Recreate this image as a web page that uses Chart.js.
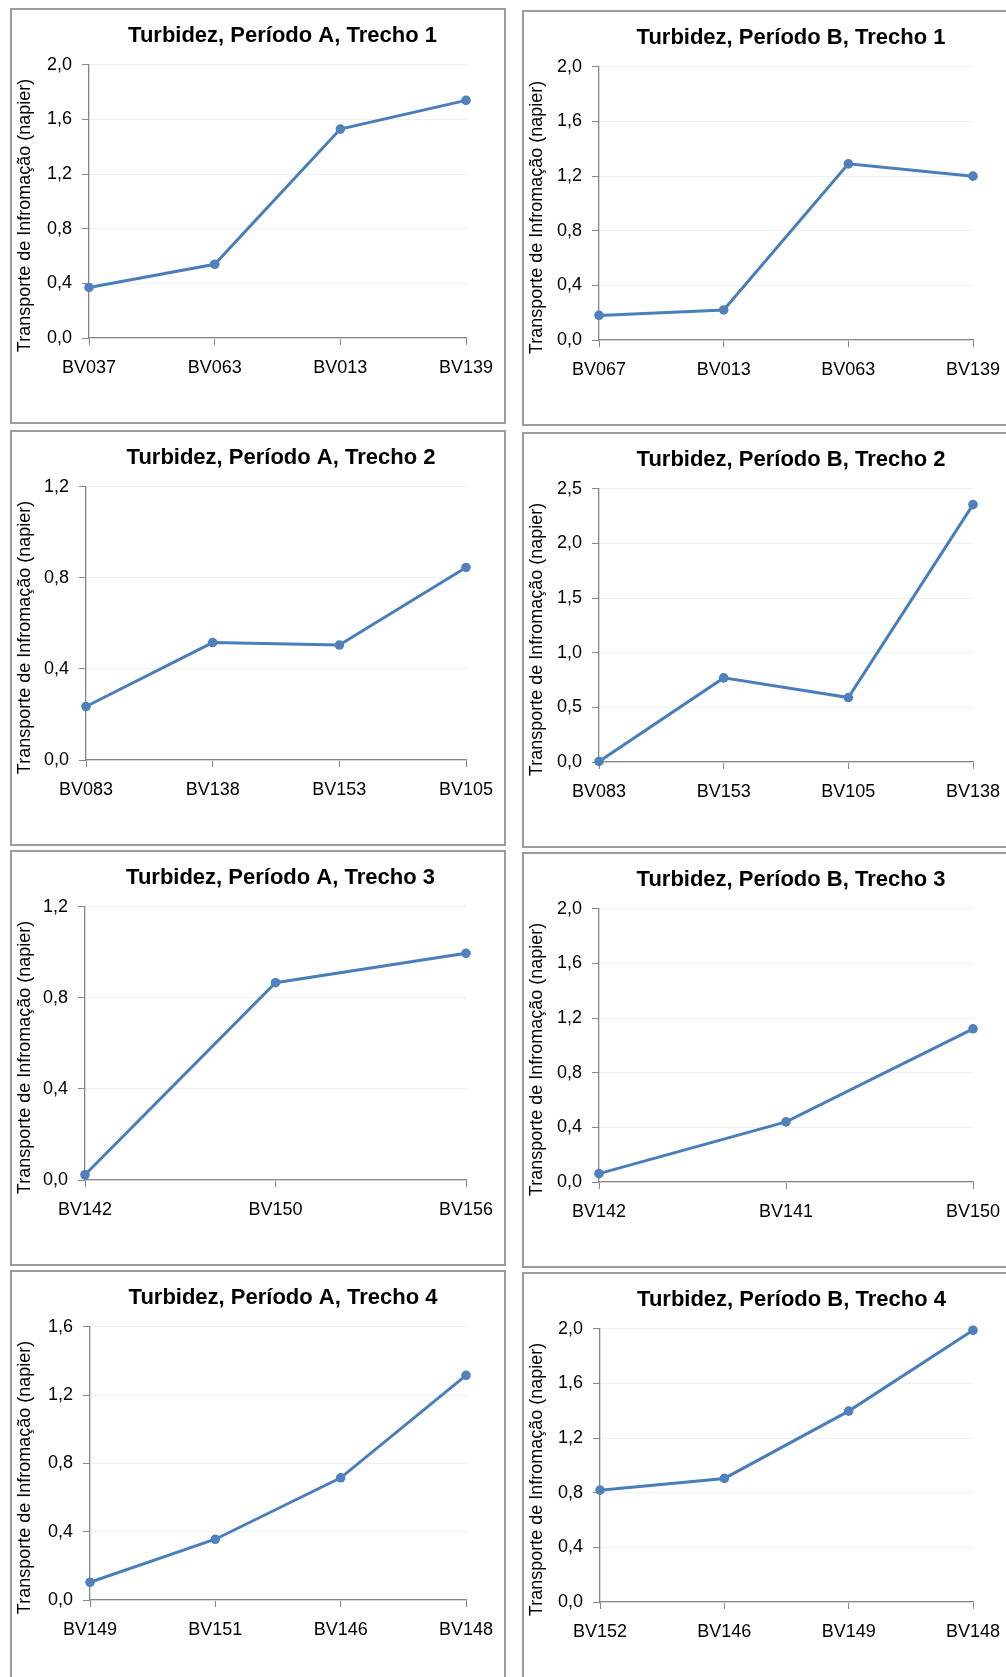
<!DOCTYPE html>
<html>
<head>
<meta charset="utf-8">
<script src="https://cdn.jsdelivr.net/npm/chart.js@4.4.1/dist/chart.umd.min.js"></script>
<style>
html, body { margin: 0; padding: 0; background: #fff; overflow: hidden; width: 1006px; height: 1677px; position: relative; }
.painel { position: absolute; box-sizing: border-box; width: 496px; height: 416px; border: 2px solid #9c9c9c; background: #fff; }
.painel canvas { position: absolute; left: -2px; top: -2px; }
</style>
</head>
<body>
<script>
// dados
const estacoesA1 = ["BV037", "BV063", "BV013", "BV139"];
const valoresA1 = [0.37, 0.54, 1.53, 1.74];
const estacoesB1 = ["BV067", "BV013", "BV063", "BV139"];
const valoresB1 = [0.18, 0.22, 1.29, 1.20];
const estacoesA2 = ["BV083", "BV138", "BV153", "BV105"];
const valoresA2 = [0.235, 0.516, 0.505, 0.846];
const estacoesB2 = ["BV083", "BV153", "BV105", "BV138"];
const valoresB2 = [0.005, 0.77, 0.59, 2.356];
const estacoesA3 = ["BV142", "BV150", "BV156"];
const valoresA3 = [0.023, 0.867, 0.996];
const estacoesB3 = ["BV142", "BV141", "BV150"];
const valoresB3 = [0.061, 0.44, 1.122];
const estacoesA4 = ["BV149", "BV151", "BV146", "BV148"];
const valoresA4 = [0.104, 0.356, 0.716, 1.316];
const estacoesB4 = ["BV152", "BV146", "BV149", "BV148"];
const valoresB4 = [0.819, 0.905, 1.398, 1.99];

const maximosY = [2.0, 2.0, 1.2, 2.5, 1.2, 2.0, 1.6, 2.0];
const passosY = [0.4, 0.4, 0.4, 0.5, 0.4, 0.4, 0.4, 0.4];
const titulos = [
  "Turbidez, Período A, Trecho 1", "Turbidez, Período B, Trecho 1",
  "Turbidez, Período A, Trecho 2", "Turbidez, Período B, Trecho 2",
  "Turbidez, Período A, Trecho 3", "Turbidez, Período B, Trecho 3",
  "Turbidez, Período A, Trecho 4", "Turbidez, Período B, Trecho 4"
];
const textoEixoY = "Transporte de Infromação (napier)";

const series = [
  [estacoesA1, valoresA1], [estacoesB1, valoresB1],
  [estacoesA2, valoresA2], [estacoesB2, valoresB2],
  [estacoesA3, valoresA3], [estacoesB3, valoresB3],
  [estacoesA4, valoresA4], [estacoesB4, valoresB4]
];

// posicao dos paineis na pagina
const posicoes = [
  [10, 8], [522, 10], [10, 430], [522, 432],
  [10, 850], [522, 852], [10, 1270], [522, 1272]
];
const largurasEixoY = [79, 77, 76, 77, 75, 77, 80, 78];

const fonte = '"Liberation Sans", Arial, sans-serif';
const cinza = "#868686";

const tituloEixoY = {
  id: "tituloEixoY",
  afterLayout(chart) {
    // o titulo do excel fica um pouco a direita do centro da area do grafico
    if (chart.titleBlock) {
      chart.titleBlock.left += 5;
      chart.titleBlock.right += 5;
    }
  },
  afterDraw(chart) {
    const { ctx, chartArea } = chart;
    ctx.save();
    ctx.translate(15, (chartArea.top + chartArea.bottom) / 2 + 14);
    ctx.rotate(-Math.PI / 2);
    ctx.font = "18px " + fonte;
    ctx.fillStyle = "#000";
    ctx.textAlign = "center";
    ctx.textBaseline = "middle";
    ctx.fillText(textoEixoY, 0, 0);
    ctx.restore();
  }
};

series.forEach(([estacoes, valores], i) => {
  const painel = document.createElement("div");
  painel.className = "painel";
  painel.style.left = posicoes[i][0] + "px";
  painel.style.top = posicoes[i][1] + "px";
  const canvas = document.createElement("canvas");
  canvas.width = 496;
  canvas.height = 416;
  painel.appendChild(canvas);
  document.body.appendChild(painel);

  const larguraY = largurasEixoY[i];
  const direita = i % 2 === 0 ? 40 : 45;

  new Chart(canvas.getContext("2d"), {
    type: "line",
    data: {
      labels: estacoes,
      datasets: [{
        data: valores,
        borderColor: "#4a7ebb",
        backgroundColor: "#4f81bd",
        borderWidth: 3,
        pointRadius: 4.8,
        pointBorderWidth: 0,
        tension: 0,
        clip: false
      }]
    },
    options: {
      responsive: false,
      animation: false,
      devicePixelRatio: 1,
      layout: { padding: { left: 0, right: direita, top: 0, bottom: 0 } },
      plugins: {
        legend: { display: false },
        tooltip: { enabled: false },
        title: {
          display: true,
          text: titulos[i],
          fullSize: false,
          color: "#000",
          font: { family: fonte, size: 22, weight: "bold" },
          padding: { top: 14.5, bottom: 16 }
        }
      },
      scales: {
        x: {
          grid: { drawOnChartArea: false, tickColor: cinza, tickLength: 7 },
          border: { color: cinza, width: 1.3 },
          ticks: { color: "#000", font: { family: fonte, size: 18 }, padding: 12, maxRotation: 0, autoSkip: false },
          afterFit: (s) => { s.height = 86; }
        },
        y: {
          min: 0,
          max: maximosY[i],
          grid: { color: "#f0f0f0", tickColor: cinza, tickLength: 7 },
          border: { color: cinza, width: 1.3 },
          ticks: {
            stepSize: passosY[i],
            color: "#000",
            font: { family: fonte, size: 18 },
            padding: 10,
            callback: (v) => v.toFixed(1).replace(".", ",")
          },
          afterFit: (s) => { s.width = larguraY; }
        }
      }
    },
    plugins: [tituloEixoY]
  });
});
</script>
</body>
</html>
